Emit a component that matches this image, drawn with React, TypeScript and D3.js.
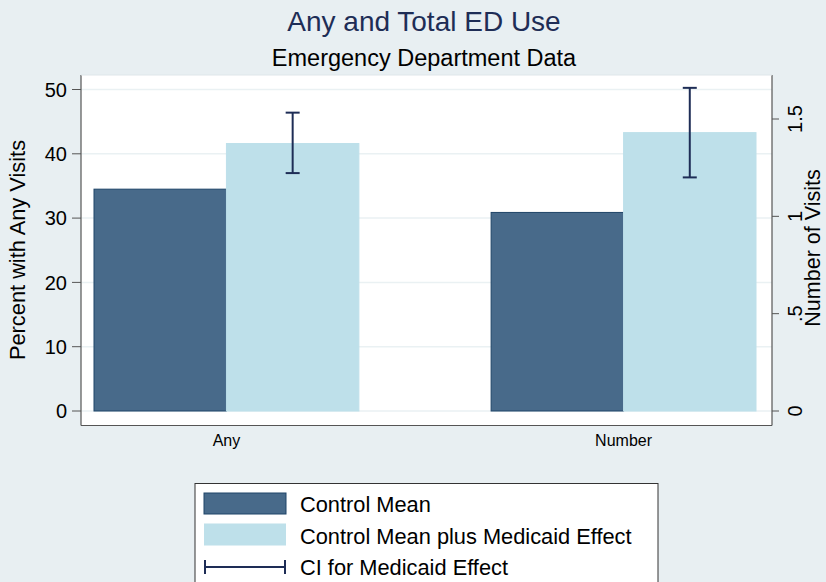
import React from "react";
import * as d3 from "d3";

const categories = ["Any", "Number"];
const axisOf = ["left", "right"];
const controlMean = [34.5, 1.02];
const withEffect = [41.6, 1.43];
const ciLow = [37.0, 1.2];
const ciHigh = [46.4, 1.66];
const leftTicks = [0, 10, 20, 30, 40, 50];
const rightTicks = [0, 0.5, 1, 1.5];
const rightTickLabels = ["0", ".5", "1", "1.5"];
const seriesNames = ["Control Mean", "Control Mean plus Medicaid Effect", "CI for Medicaid Effect"];

const W = 826, H = 582;
const plot = { l: 81, r: 772, t: 75, b: 425.5 };
const BG = "#e8eff2";
const DARK = "#486a8a";
const DARK_STROKE = "#1f4468";
const LIGHT = "#bee0ea";
const NAVY = "#1e2d56";
const GRID = "#eaf1f3";
const FONT = "'Liberation Sans', Arial, Helvetica, sans-serif";

export default function App() {
  const yL = d3.scaleLinear().domain([0, 50]).range([411, 89.5]);
  const yR = d3.scaleLinear().domain([0, 1.5]).range([411, 119]);
  const x0 = d3.scaleBand().domain(categories).range([94, 756]).paddingInner(0.333);
  const x1 = d3.scaleBand().domain(["c", "e"]).range([0, x0.bandwidth()]);
  const yFor = (i: number) => (axisOf[i] === "left" ? yL : yR);
  const cx = 424;

  return (
    <svg width={W} height={H} style={{ position: "absolute", left: 0, top: 0 }} fontFamily={FONT}>
      <rect x={0} y={0} width={W} height={H} fill={BG} />
      <rect x={plot.l} y={plot.t} width={plot.r - plot.l} height={plot.b - plot.t} fill="#ffffff" />
      {leftTicks.map((t) => (
        <line key={"g" + t} x1={plot.l} x2={plot.r} y1={yL(t)} y2={yL(t)} stroke={GRID} strokeWidth={1.5} />
      ))}
      {categories.map((c, i) => {
        const y = yFor(i);
        const gx = x0(c)!;
        const xe = gx + x1("e")!;
        const bw = x1.bandwidth();
        const ciX = xe + bw / 2;
        return (
          <g key={c}>
            <rect x={gx + x1("c")!} y={y(controlMean[i])} width={bw} height={y(0) - y(controlMean[i])}
              fill={DARK} stroke={DARK_STROKE} strokeWidth={1} />
            <rect x={xe} y={y(withEffect[i])} width={bw} height={y(0) - y(withEffect[i])}
              fill={LIGHT} stroke={LIGHT} strokeWidth={1} />
            <line x1={ciX} x2={ciX} y1={y(ciLow[i])} y2={y(ciHigh[i])} stroke={NAVY} strokeWidth={2} />
            <line x1={ciX - 7} x2={ciX + 7} y1={y(ciLow[i])} y2={y(ciLow[i])} stroke={NAVY} strokeWidth={2} />
            <line x1={ciX - 7} x2={ciX + 7} y1={y(ciHigh[i])} y2={y(ciHigh[i])} stroke={NAVY} strokeWidth={2} />
            <text x={gx + x0.bandwidth() / 2} y={446} textAnchor="middle" fontSize={16} fill="#000">{c}</text>
          </g>
        );
      })}
      {/* axes */}
      <line x1={plot.l} x2={plot.l} y1={plot.t} y2={plot.b} stroke="#555" strokeWidth={1.2} />
      <line x1={plot.r} x2={plot.r} y1={plot.t} y2={plot.b} stroke="#555" strokeWidth={1.2} />
      <line x1={plot.l} x2={plot.r} y1={plot.b} y2={plot.b} stroke="#555" strokeWidth={1.2} />
      <line x1={plot.l} x2={plot.r} y1={plot.t} y2={plot.t} stroke="#dfe6ea" strokeWidth={1} />
      {leftTicks.map((t) => (
        <g key={"lt" + t}>
          <line x1={72} x2={plot.l} y1={yL(t)} y2={yL(t)} stroke="#555" strokeWidth={1} />
          <text x={67} y={yL(t)} dy="0.36em" textAnchor="end" fontSize={20} fill="#000">{t}</text>
        </g>
      ))}
      {rightTicks.map((t, i) => (
        <g key={"rt" + t}>
          <line x1={plot.r} x2={779} y1={yR(t)} y2={yR(t)} stroke="#555" strokeWidth={1} />
          <text transform={`translate(802,${yR(t)}) rotate(-90)`} textAnchor="middle" fontSize={20} fill="#000">{rightTickLabels[i]}</text>
        </g>
      ))}
      <text transform={`translate(25,250) rotate(-90)`} textAnchor="middle" fontSize={21.8} fill="#000">Percent with Any Visits</text>
      <text transform={`translate(820,248) rotate(-90)`} textAnchor="middle" fontSize={21.5} fill="#000">Number of Visits</text>
      {/* titles */}
      <text x={cx} y={31} textAnchor="middle" fontSize={28} fill={NAVY}>Any and Total ED Use</text>
      <text x={cx} y={66} textAnchor="middle" fontSize={23.5} fill="#000">Emergency Department Data</text>
      {/* legend */}
      <rect x={195} y={483.5} width={463} height={120} fill="#ffffff" stroke="#333" strokeWidth={1} />
      <rect x={204} y={493} width={82} height={21} fill={DARK} stroke={DARK_STROKE} strokeWidth={1} />
      <text x={300} y={512} fontSize={21.8} fill="#000">{seriesNames[0]}</text>
      <rect x={204} y={523.5} width={82} height={22} fill={LIGHT} />
      <text x={300} y={544} fontSize={21.8} fill="#000">{seriesNames[1]}</text>
      <line x1={205} x2={285} y1={567} y2={567} stroke={NAVY} strokeWidth={2} />
      <line x1={205} x2={205} y1={560} y2={574} stroke={NAVY} strokeWidth={2} />
      <line x1={285} x2={285} y1={560} y2={574} stroke={NAVY} strokeWidth={2} />
      <text x={300} y={575} fontSize={21.8} fill="#000">{seriesNames[2]}</text>
    </svg>
  );
}
